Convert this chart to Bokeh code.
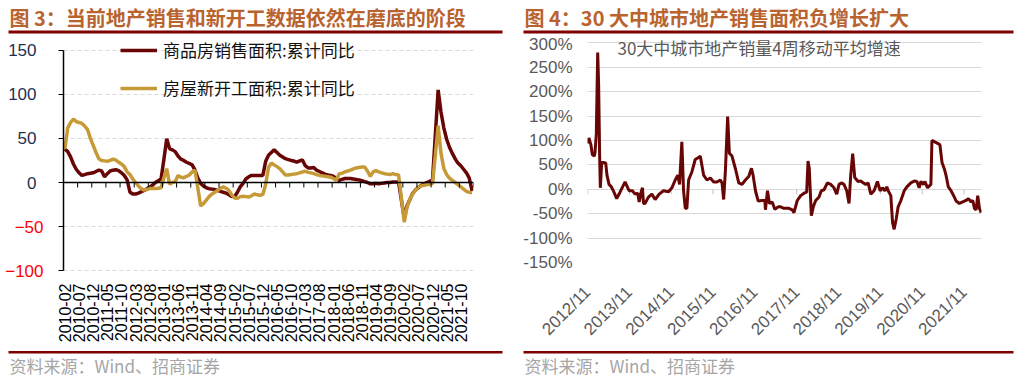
import math
import pandas as pd
from bokeh.plotting import figure
from bokeh.models import (Range1d, FixedTicker, Label, BoxAnnotation, Span, Legend,
                          LegendItem, PrintfTickFormatter, DatetimeTickFormatter, LinearAxis)
from bokeh.layouts import row, column
from bokeh.embed import file_html
from bokeh.resources import INLINE

# ---------------- data: left chart (monthly, cumulative YoY %) ----------------
months = pd.period_range("2010-02", "2022-02", freq="M").strftime("%Y-%m").tolist()

sales_yoy = [
    38, 35, 29, 21, 15, 11, 8, 9, 10, 10.5, 11,
    12.5, 14, 13, 6.5, 10, 13, 14, 14.5, 13.5, 11, 8, 3,
    -11, -13, -13, -12, -10.5, -9, -7, -5, -3, 0, 2, 4,
    26, 49.5, 38.5, 37, 35, 30, 26.5, 25, 23, 21.5, 20, 14,
    5, -1, -4, -6, -7, -7.5, -8, -9, -10, -11, -12, -14,
    -16, -16, -11, -5, -1, 4, 6.5, 8, 8, 8, 8, 8,
    24, 31, 34, 37, 34, 31, 29, 27, 26, 25, 24.3, 23,
    24.5, 25.5, 19, 16.5, 16.5, 17, 14, 12.5, 11, 9.5, 8.5, 8,
    7, 4, 2.5, 3.5, 4.5, 4.5, 4.5, 4, 3.5, 3, 2, 1,
    0, -1.5, -1.5, -1, -1.5, -1, -0.5, 0, 0, 0.5, 0.5, 0.5,
    -20, -39.9, -26.3, -19.3, -12.3, -8.4, -5.8, -3.3, -1.8, 0, 1.3, 2.6,
    54, 104.9, 80, 62, 49, 40, 33, 27, 22, 19, 15, 11,
    5, -9.6,
]

starts_yoy = [
    38, 62, 68, 72, 69, 68, 67, 64, 60, 50, 42,
    34, 27, 25, 24.5, 24, 25, 26.5, 25.5, 23, 21, 18, 12,
    9, 4, 0, -4, -7, -8.6, -8, -6.7, -6.7, -6.7, -6.5, -6,
    5, 15.7, -2, 0, 1, 8, 6, 5.5, 7, 8.5, 12, 14,
    -6, -26.5, -24, -20, -16, -13, -11, -9, -6.5, -5, -6.5, -9,
    -14, -17.5, -18, -16, -15.5, -16, -16.5, -15, -13, -14, -14.5, -13.5,
    -2, 17, 22, 20, 18, 15.7, 12, 8.5, 8.5, 9, 9.5, 10,
    11, 12, 12.7, 11.5, 11, 10, 9, 8, 7.5, 7, 6.5, 6,
    4.5, 2.6, 10, 10.5, 12, 13, 14, 15.5, 16.5, 17, 17.5, 17.5,
    13, 7, 12, 13.5, 12, 11, 10, 9.5, 9, 10, 9, 8.5,
    -18, -44.9, -28, -19, -13, -8.5, -5, -4, -3, -2.5, -2, -1.2,
    31, 64.3, 33, 16, 9, 5, 2.5, 0, -2.5, -5, -7.5, -10,
    -11, -11.6,
]

left_y_ticks = [-100, -50, 0, 50, 100, 150]
left_label_step = 5

# ---------------- data: right chart (30 cities, 4-week MA YoY %) ----------------
week_dates = [
    "2012-11-01", "2012-11-12", "2012-11-30", "2012-12-12", "2012-12-29", "2013-01-04",
    "2013-01-16", "2013-01-28", "2013-02-05", "2013-02-14", "2013-02-20", "2013-03-04",
    "2013-03-18", "2013-04-08", "2013-04-19", "2013-05-07", "2013-05-24", "2013-06-14",
    "2013-07-13", "2013-08-11", "2013-09-24", "2013-10-29", "2013-11-27", "2013-12-21",
    "2014-01-13", "2014-01-25", "2014-02-11", "2014-02-23", "2014-03-04", "2014-03-18",
    "2014-04-16", "2014-05-16", "2014-06-14", "2014-07-19", "2014-08-26", "2014-10-09",
    "2014-11-07", "2014-12-06", "2014-12-29", "2015-01-13", "2015-02-02", "2015-02-17",
    "2015-03-04", "2015-03-18", "2015-04-02", "2015-05-01", "2015-05-30", "2015-06-28",
    "2015-07-13", "2015-08-11", "2015-09-09", "2015-10-09", "2015-11-07", "2015-12-06",
    "2016-01-04", "2016-01-19", "2016-02-02", "2016-02-17", "2016-03-08", "2016-03-23",
    "2016-04-15", "2016-05-15", "2016-06-13", "2016-07-12", "2016-08-10", "2016-09-08",
    "2016-10-02", "2016-10-16", "2016-11-06", "2016-11-29", "2017-01-03", "2017-01-27",
    "2017-02-01", "2017-02-19", "2017-03-08", "2017-04-01", "2017-04-24", "2017-05-23",
    "2017-06-13", "2017-07-12", "2017-08-25", "2017-09-23", "2017-10-08", "2017-11-06",
    "2017-12-06", "2018-01-04", "2018-01-27", "2018-02-08", "2018-02-19", "2018-03-09",
    "2018-03-26", "2018-04-16", "2018-05-15", "2018-06-04", "2018-06-28", "2018-07-27",
    "2018-08-25", "2018-09-23", "2018-10-16", "2018-11-06", "2018-11-26", "2018-12-19",
    "2019-01-12", "2019-02-01", "2019-02-16", "2019-03-05", "2019-03-23", "2019-04-21",
    "2019-05-14", "2019-06-07", "2019-06-27", "2019-07-18", "2019-08-10", "2019-09-08",
    "2019-10-07", "2019-10-31", "2019-11-20", "2019-12-11", "2019-12-28", "2020-01-09",
    "2020-02-01", "2020-02-16", "2020-03-01", "2020-03-19", "2020-04-05", "2020-04-29",
    "2020-05-28", "2020-06-20", "2020-07-25", "2020-08-24", "2020-09-16", "2020-10-06",
    "2020-10-21", "2020-11-13", "2020-11-25", "2020-12-18", "2021-01-16", "2021-01-25",
    "2021-03-16", "2021-04-05", "2021-04-23", "2021-05-13", "2021-05-28", "2021-06-17",
    "2021-07-11", "2021-08-09", "2021-08-24", "2021-09-22", "2021-10-21", "2021-11-19",
    "2021-12-10", "2022-01-02", "2022-01-17", "2022-01-31", "2022-02-15", "2022-03-01",
    "2022-03-16", "2022-03-31",
]
city_sales_4w = [
    94, 105, 91, 71, 68, 74,
    113, 280, 217, 68, 3, 55,
    55, 54, 29, 10, 6, -3,
    -19, -6, 15, -3, -3, -10,
    -8, -26, -6, 3, -29, -29,
    -16, -10, -21, -10, -3, -5,
    3, 19, 29, 10, 97, -3,
    -39, -39, 19, 36, 61, 65,
    68, 29, 19, 23, 15, 15,
    19, 13, -21, 36, 149, 74,
    68, 42, 13, 10, 19, 26,
    43, 29, -3, -24, -23, -23,
    -42, -3, -29, -26, -41, -36,
    -36, -39, -39, -42, -48, -23,
    -13, -8, -6, 58, 42, -54,
    -36, -23, -16, -3, -1, 13,
    10, 3, -10, 10, 13, 10,
    -3, -29, 29, 73, 24, 16,
    17, 13, 10, 13, -10, -3,
    16, -3, 3, -3, 5, -3,
    -13, -68, -82, -61, -36, -23,
    -3, 5, 13, 17, 16, 3,
    16, 10, 16, 3, 10, 100,
    94, 91, 55, 42, 29, 5,
    -3, -16, -24, -29, -26, -23,
    -19, -26, -23, -39, -42, -13,
    -39, -48,
]
right_tick_labels = ["2012/11", "2013/11", "2014/11", "2015/11", "2016/11",
                     "2017/11", "2018/11", "2019/11", "2020/11", "2021/11"]
right_y_ticks = [-150, -100, -50, 0, 50, 100, 150, 200, 250, 300]

# ---------------- styles ----------------
DARK_RED = "#680505"
GOLD = "#C79A38"
RULE = "#7F0000"
TITLE_C = "#B9632F"
NAVY = "#1F2F4F"
GREY_T = "#595959"
FOOT_C = "#A6A6A6"
CJK = "Noto Sans CJK SC"
LAT = "Liberation Sans"

FTR_H = 30
L_HDR, L_CH = 36, 312
R_HDR, R_CH = 34, 314
L_W, R_W = 515, 505


def strip_fig(w, h):
    f = figure(width=w, height=h, output_backend="svg", toolbar_location=None, title=None,
               x_range=Range1d(0, w), y_range=Range1d(h, 0), x_axis_type=None,
               y_axis_type=None, min_border=0, frame_align=False)
    f.outline_line_color = None
    f.background_fill_color = "white"
    f.border_fill_color = "white"
    return f


def header(w, h, x0, x1, title):
    f = strip_fig(w, h)
    f.add_layout(Label(x=x0 + 1, y=16.5, text=title, text_font=CJK, text_font_size="20px",
                       text_font_style="bold", text_color=TITLE_C,
                       text_baseline="middle", text_align="left"))
    f.add_layout(BoxAnnotation(left=x0, right=x1, top=30, bottom=33, fill_color=RULE,
                               fill_alpha=1, line_color=None))
    return f


def footer(w, x0, x1):
    f = strip_fig(w, FTR_H)
    f.add_layout(BoxAnnotation(left=x0, right=x1, top=2.5, bottom=5, fill_color=RULE,
                               fill_alpha=1, line_color=None))
    f.add_layout(Label(x=x0 + 1, y=16.5, text="资料来源：Wind、招商证券", text_font=CJK,
                       text_font_size="17px", text_color=FOOT_C,
                       text_baseline="middle", text_align="left"))
    return f


def style_common(p):
    p.outline_line_color = None
    p.background_fill_color = "white"
    p.border_fill_color = "white"
    p.xgrid.visible = False
    for ax in (p.xaxis[0], p.yaxis[0]):
        ax.minor_tick_line_color = None


# ---------------- left chart ----------------
idx = list(range(len(months)))
p1 = figure(width=L_W, height=L_CH, output_backend="svg", toolbar_location=None, title=None,
            x_range=Range1d(-0.5, len(months) - 0.5), y_range=Range1d(-100.9, 163.26),
            min_border_left=63, min_border_right=42, min_border_top=2, min_border_bottom=77,
            frame_align=False)
style_common(p1)

p1.ygrid.ticker = FixedTicker(ticks=left_y_ticks)
p1.ygrid.grid_line_color = "#D9D9D9"
p1.ygrid.grid_line_dash = "4 3"
p1.ygrid.grid_line_width = 1

neg_ticks = [t for t in left_y_ticks if t < 0]
pos_ticks = [t for t in left_y_ticks if t >= 0]

# inner axis: axis line, ticks and red negative labels
ya = p1.yaxis[0]
ya.ticker = FixedTicker(ticks=left_y_ticks)
ya.bounds = (left_y_ticks[0], left_y_ticks[-1])
ya.axis_line_color = "black"
ya.axis_line_width = 1.5
ya.major_tick_line_color = "black"
ya.major_tick_out = 5
ya.major_tick_in = 0
ya.major_label_standoff = 15
ya.major_label_text_font = LAT
ya.major_label_text_font_size = "17px"
ya.major_label_text_color = "#FF0000"
ya.major_label_overrides = {t: "" for t in pos_ticks}

# outer axis: navy labels for non-negative values, pulled back next to the inner one
navy_axis = LinearAxis(ticker=FixedTicker(ticks=pos_ticks), axis_line_color=None,
                       major_tick_line_color=None, minor_tick_line_color=None,
                       major_tick_out=0, major_tick_in=0, major_label_standoff=-34,
                       major_label_text_font=LAT, major_label_text_font_size="17px",
                       major_label_text_color=NAVY)
p1.add_layout(navy_axis, "left")

label_idx = [i for i in idx[::left_label_step] if i <= 140]
xa = p1.xaxis[0]
xa.ticker = FixedTicker(ticks=label_idx)
xa.major_label_overrides = {i: months[i] for i in label_idx}
xa.major_label_orientation = math.pi / 2
xa.axis_line_color = None
xa.major_tick_line_color = None
xa.major_tick_out = 0
xa.major_label_standoff = 12
xa.major_label_text_font = LAT
xa.major_label_text_font_size = "16px"
xa.major_label_text_color = "black"

r1 = p1.line(idx, sales_yoy, line_color=DARK_RED, line_width=3.5)
r2 = p1.line(idx, starts_yoy, line_color=GOLD, line_width=3.5)

p1.add_layout(Span(location=0, dimension="width", line_color="black", line_width=1.5))
tick_between = [i + left_label_step - 0.5 for i in label_idx]
p1.ray(x=tick_between, y=[0] * len(tick_between), length=5, length_units="screen",
       angle=-math.pi / 2, line_color="black", line_width=1)

legend = Legend(items=[LegendItem(label="商品房销售面积:累计同比", renderers=[r1]),
                       LegendItem(label="房屋新开工面积:累计同比", renderers=[r2])],
                location=(57, 171), orientation="vertical", glyph_width=37, glyph_height=24,
                label_height=24, spacing=13, padding=0, margin=0, label_standoff=6,
                background_fill_alpha=0, border_line_color=None,
                label_text_font=CJK, label_text_font_size="17px", label_text_color="#111111")
p1.add_layout(legend)

# ---------------- right chart ----------------
dts = pd.to_datetime(week_dates)
tick_dates = [pd.Timestamp(s.replace("/", "-") + "-01") for s in right_tick_labels]
R_YTOP = 317.0
p2 = figure(width=R_W, height=R_CH, output_backend="svg", toolbar_location=None, title=None,
            x_axis_type="datetime",
            x_range=Range1d(pd.Timestamp("2012-10-31"), pd.Timestamp("2022-04-03")),
            y_range=Range1d(-150, R_YTOP),
            min_border_left=72, min_border_right=39, min_border_top=0, min_border_bottom=75,
            frame_align=False)
style_common(p2)
p2.ygrid.ticker = FixedTicker(ticks=right_y_ticks)
p2.ygrid.grid_line_color = "#D9D9D9"
p2.ygrid.grid_line_width = 1

ya2 = p2.yaxis[0]
ya2.ticker = FixedTicker(ticks=right_y_ticks)
ya2.formatter = PrintfTickFormatter(format="%d%%")
ya2.axis_line_color = None
ya2.major_tick_line_color = None
ya2.major_tick_out = 0
ya2.major_label_standoff = 15
ya2.major_label_text_font = LAT
ya2.major_label_text_font_size = "17px"
ya2.major_label_text_color = GREY_T

xa2 = p2.xaxis[0]
xa2.ticker = FixedTicker(ticks=[t.value // 10**6 for t in tick_dates])
xa2.formatter = DatetimeTickFormatter(years="%Y/%m", months="%Y/%m", days="%Y/%m")
xa2.major_label_orientation = math.pi / 4
xa2.axis_line_color = None
xa2.major_tick_line_color = None
xa2.major_tick_out = 0
xa2.major_label_standoff = 27
xa2.major_label_text_font = LAT
xa2.major_label_text_font_size = "17px"
xa2.major_label_text_color = GREY_T

p2.ray(x=tick_dates, y=[0] * len(tick_dates), length=5, length_units="screen",
       angle=-math.pi / 2, line_color="#BFBFBF", line_width=1)
p2.line(dts, city_sales_4w, line_color=DARK_RED, line_width=3)

p2.add_layout(Label(x=30, y=R_YTOP, x_units="screen", y_units="data", y_offset=-12.7,
                    text="30大中城市地产销量4周移动平均增速", text_font=CJK,
                    text_font_size="17px", text_color=GREY_T, text_baseline="middle"))

# ---------------- layout ----------------
left_col = column(header(L_W, L_HDR, 8, 502, "图 3：当前地产销售和新开工数据依然在磨底的阶段"),
                  p1, footer(L_W, 8, 502))
right_col = column(header(R_W, R_HDR, 8, 498, "图 4：30 大中城市地产销售面积负增长扩大"),
                   p2, footer(R_W, 8, 498))
layout = row(left_col, right_col)
open("out.html", "w").write(file_html(layout, INLINE))
